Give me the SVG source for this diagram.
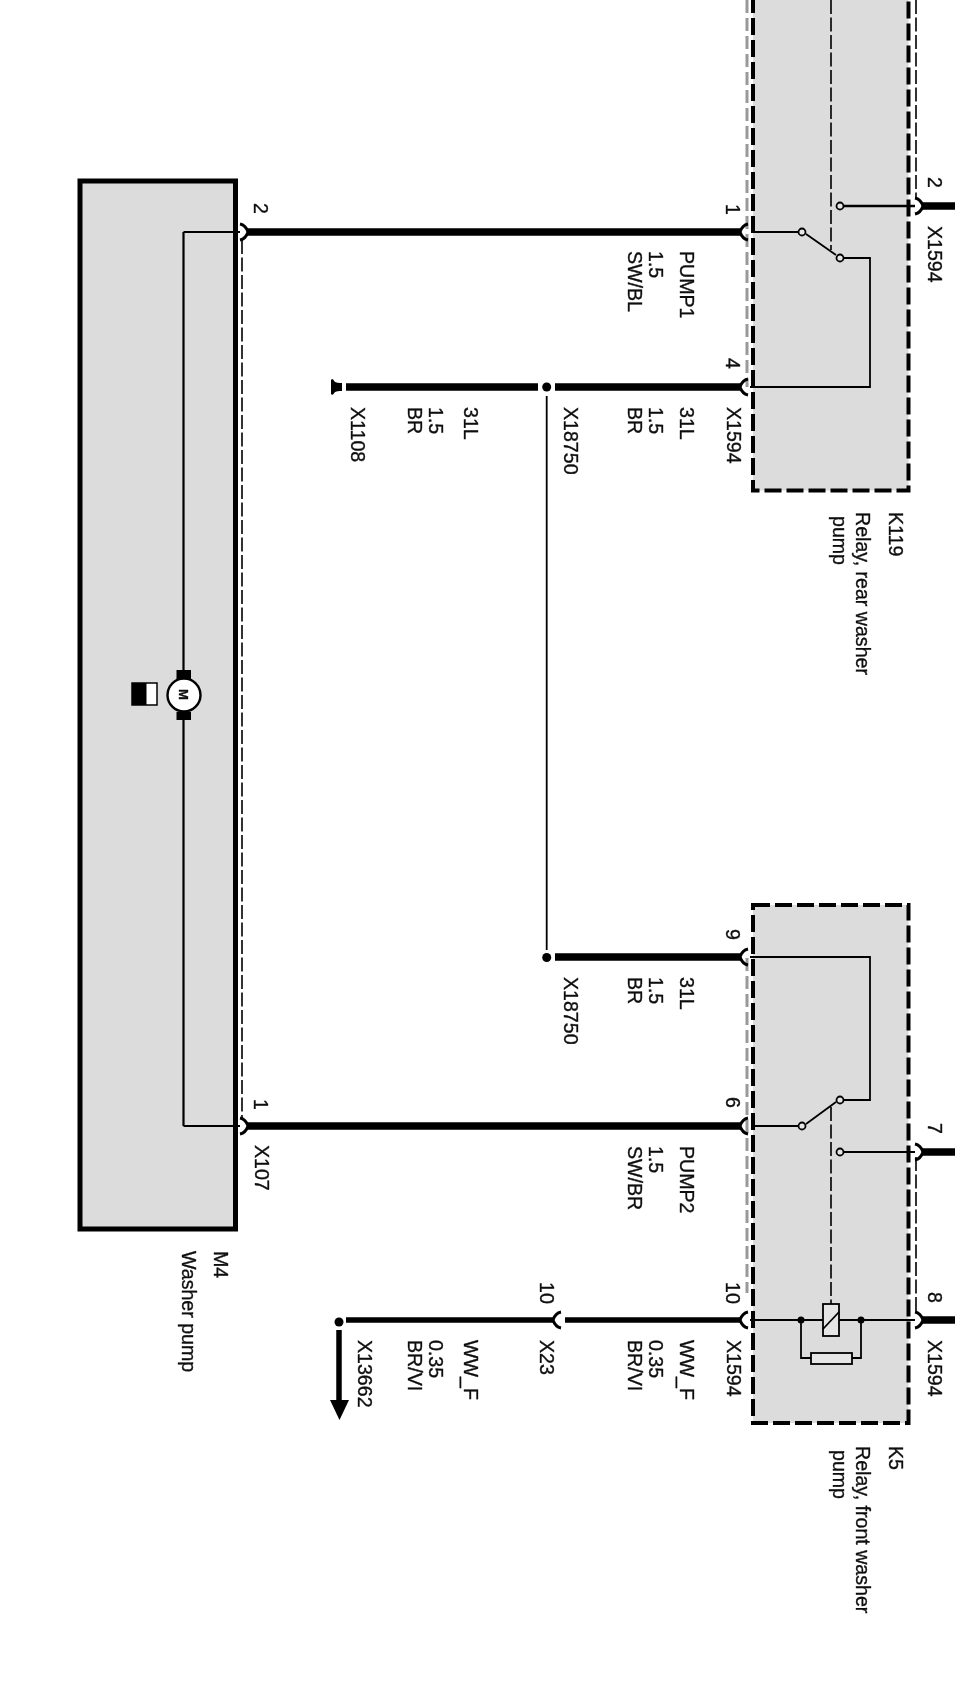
<svg xmlns="http://www.w3.org/2000/svg" xmlns:xlink="http://www.w3.org/1999/xlink" width="955" height="1697" viewBox="0 0 955 1697">
<style>
text{font-family:"Liberation Sans",Arial,sans-serif;font-size:19.600px;fill:#111;stroke:#111;stroke-width:.35}
.solid{fill:#dcdcdc;stroke:#000;stroke-width:5}
.box{fill:#dcdcdc;stroke:#000;stroke-width:4;stroke-dasharray:17 5}
.thin{fill:none;stroke:#000;stroke-width:1.800}
.thick{fill:none;stroke:#000;stroke-width:7.500}
.mid{fill:none;stroke:#000;stroke-width:5.500}
.dash{fill:none;stroke:#000;stroke-width:1.600;stroke-dasharray:14 3.500}
.grey{fill:none;stroke:#999;stroke-width:3;stroke-dasharray:13 5}
.arc{fill:none;stroke:#000;stroke-width:3}
.c{fill:#e6e6e6;stroke:#000;stroke-width:1.800}
.dot{fill:#000}
</style>
<defs>
<filter id="soft" filterUnits="userSpaceOnUse" x="0" y="0" width="955" height="1697"><feGaussianBlur stdDeviation="0.4"/></filter>
<path id="tl" class="arc" d="M748 -8C743 -7 741 -3 740 0C741 3 743 7 748 8"/>
<path id="tr" class="arc" d="M915 -8C920 -7 922 -3 923 0C922 3 920 7 915 8"/>
</defs>
<rect width="955" height="1697" fill="#fff"/>
<g filter="url(#soft)">
<g id="M4">
<rect class="solid" x="80" y="181" width="155.500" height="1048"/>
<g id="motor">
<path class="thin" d="M183.500 232V672M183.500 716V1126" style="stroke-width:2.200"/>
<rect x="176.500" y="670" width="14.500" height="9" class="dot"/>
<rect x="176.500" y="712" width="14.500" height="8" class="dot"/>
<circle cx="184" cy="695" r="16.500" fill="#fff" stroke="#000" stroke-width="2.400"/>
<text transform="translate(178.500 689) rotate(90)" style="font-size:13px;font-weight:bold">M</text>
<rect x="132" y="683" width="25" height="22" fill="#fff" stroke="#000" stroke-width="1.500"/>
<rect x="132" y="683" width="14.500" height="22" class="dot"/>
</g>
<text transform="translate(214 1251) rotate(90)">M4</text>
<text transform="translate(182 1251) rotate(90)">Washer pump</text>
</g>
<g id="K119">
<path class="box" d="M753 -4V490.500H908.500V-4"/>
<path class="dash" d="M831 0V250"/>
<path class="thin" d="M753 232H802M806 234L836 255M843 258H870V387H750"/>
<path d="M843 206H915" fill="none" stroke="#000" stroke-width="2.500"/>
<circle class="c" cx="802" cy="232" r="3.500"/>
<circle class="c" cx="840" cy="258" r="3.500"/>
<circle class="c" cx="840" cy="206" r="3.500"/>
<text transform="translate(889 512) rotate(90)">K119</text>
<text transform="translate(856 512) rotate(90)">Relay, rear washer</text>
<text transform="translate(833 516) rotate(90)">pump</text>
</g>
<g id="K5">
<path class="box" d="M753 905H908.500V1423H753Z"/>
<path class="dash" d="M831 1107V1304"/>
<path class="thin" d="M750 957H870V1100H843M806 1124L836 1102M753 1126H802M843 1152H915M750 1320H915M801 1320V1358H811M852 1358H861V1320"/>
<circle class="c" cx="802" cy="1126" r="3.500"/>
<circle class="c" cx="840" cy="1100" r="3.500"/>
<circle class="c" cx="840" cy="1152" r="3.500"/>
<circle class="dot" cx="801" cy="1320" r="3.500"/>
<circle class="dot" cx="861" cy="1320" r="3.500"/>
<rect class="c" x="811" y="1353" width="41" height="11"/>
<rect class="c" x="823" y="1304" width="16" height="32"/>
<path class="thin" d="M823 1329L839 1312"/>
<text transform="translate(889 1446) rotate(90)">K5</text>
<text transform="translate(856 1446) rotate(90)">Relay, front washer</text>
<text transform="translate(833 1450) rotate(90)">pump</text>
</g>
<g id="connectors">
<path class="grey" d="M747 0V387M747 958V1293"/>
<path class="dash" d="M916 0V198M916 1157V1312"/>
<path class="dash" d="M242 240V1118"/>
<path class="thin" d="M183.500 232H240M183.500 1126H240" style="stroke-width:2.200"/>
<path class="thick" d="M247 232H741M247 1126H741M346 387H538M555 387H741M555 957H741M923 206H955M923 1152H955M923 1320H955"/>
<path class="mid" d="M346 1320H553M565 1320H741"/>
<path class="thin" d="M546.700 396V950"/>
<circle class="dot" cx="546.700" cy="387" r="4.500"/>
<circle class="dot" cx="546.700" cy="957.500" r="4.500"/>
<use xlink:href="#tl" href="#tl" y="232"/>
<use xlink:href="#tl" href="#tl" y="387"/>
<use xlink:href="#tl" href="#tl" y="957"/>
<use xlink:href="#tl" href="#tl" y="1126"/>
<use xlink:href="#tl" href="#tl" y="1320"/>
<use xlink:href="#tl" href="#tl" x="-187" y="1320"/>
<use xlink:href="#tr" href="#tr" y="206"/>
<use xlink:href="#tr" href="#tr" y="1152"/>
<use xlink:href="#tr" href="#tr" y="1320"/>
<use xlink:href="#tr" href="#tr" x="-675" y="232"/>
<use xlink:href="#tr" href="#tr" x="-675" y="1126"/>
<path class="dot" d="M331 380C331 379 334 379 334 381C336 383 339 383 342 383V391C339 391 336 391 334 393C334 395 331 395 331 394Z"/>
<circle class="dot" cx="339" cy="1322" r="4.500"/>
<path class="thick" d="M339 1330V1402" style="stroke-width:5.500"/>
<path class="dot" d="M330 1400H349L339.500 1420Z"/>
</g>
<g id="labels">
<text transform="translate(254 203) rotate(90)">2</text>
<text transform="translate(254 1099) rotate(90)">1</text>
<text transform="translate(255 1145) rotate(90)">X107</text>
<text transform="translate(726 204) rotate(90)">1</text>
<text transform="translate(726 358) rotate(90)">4</text>
<text transform="translate(726 929) rotate(90)">9</text>
<text transform="translate(726 1097) rotate(90)">6</text>
<text transform="translate(726 1282) rotate(90)">10</text>
<text transform="translate(540 1282) rotate(90)">10</text>
<text transform="translate(928 177) rotate(90)">2</text>
<text transform="translate(928 1123) rotate(90)">7</text>
<text transform="translate(928 1292) rotate(90)">8</text>
<text transform="translate(928 226) rotate(90)">X1594</text>
<text transform="translate(928 1340) rotate(90)">X1594</text>
<text transform="translate(727 1340) rotate(90)">X1594</text>
<text transform="translate(727 407) rotate(90)">X1594</text>
<text transform="translate(680 251) rotate(90)">PUMP1</text>
<text transform="translate(649 251) rotate(90)">1.5</text>
<text transform="translate(628 251) rotate(90)">SW/BL</text>
<text transform="translate(680 407) rotate(90)">31L</text>
<text transform="translate(649 407) rotate(90)">1.5</text>
<text transform="translate(628 407) rotate(90)">BR</text>
<text transform="translate(564 407) rotate(90)">X18750</text>
<text transform="translate(464 407) rotate(90)">31L</text>
<text transform="translate(429 407) rotate(90)">1.5</text>
<text transform="translate(408 407) rotate(90)">BR</text>
<text transform="translate(351 407) rotate(90)">X1108</text>
<text transform="translate(680 977) rotate(90)">31L</text>
<text transform="translate(649 977) rotate(90)">1.5</text>
<text transform="translate(628 977) rotate(90)">BR</text>
<text transform="translate(564 977) rotate(90)">X18750</text>
<text transform="translate(680 1146) rotate(90)">PUMP2</text>
<text transform="translate(649 1146) rotate(90)">1.5</text>
<text transform="translate(628 1146) rotate(90)">SW/BR</text>
<text transform="translate(680 1340) rotate(90)">WW_F</text>
<text transform="translate(649 1340) rotate(90)">0.35</text>
<text transform="translate(628 1340) rotate(90)">BR/VI</text>
<text transform="translate(540 1340) rotate(90)">X23</text>
<text transform="translate(464 1340) rotate(90)">WW_F</text>
<text transform="translate(429 1340) rotate(90)">0.35</text>
<text transform="translate(408 1340) rotate(90)">BR/VI</text>
<text transform="translate(358 1340) rotate(90)">X13662</text>
</g>
</g>
</svg>
